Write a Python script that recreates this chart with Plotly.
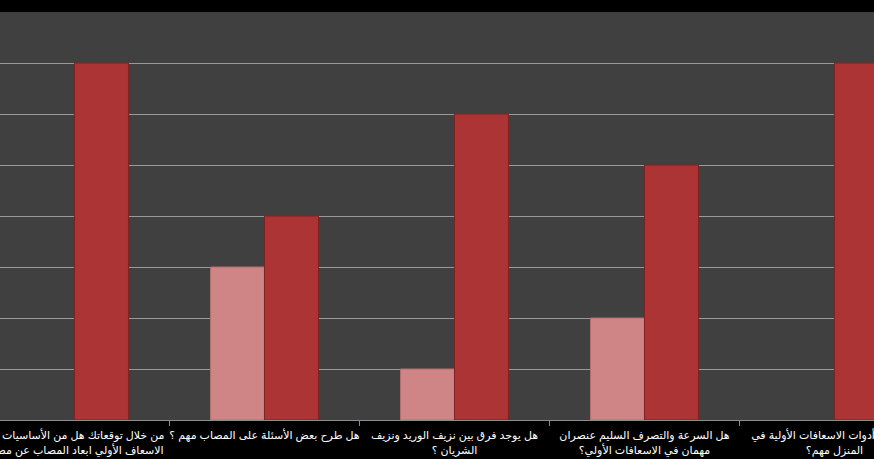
import plotly.graph_objects as go

categories = [
    "من خلال توقعاتك هل من الأساسيات في<br>الاسعاف الأولي ابعاد المصاب عن مصدر",
    "هل طرح بعض الأسئلة على المصاب مهم ؟",
    "هل يوجد فرق بين نزيف الوريد ونزيف<br>الشريان ؟",
    "هل السرعة والتصرف السليم عنصران<br>مهمان في الاسعافات الأولي؟",
    "هل وجود أدوات الاسعافات الأولية في<br>المنزل مهم؟",
]
series_light = [0, 3, 1, 2, 0]
series_dark = [7, 4, 6, 5, 7]

fig = go.Figure()
fig.add_trace(go.Bar(
    x=categories, y=[v if v else None for v in series_light], name="لا",
    marker=dict(color="#cf8585", line=dict(color="#b56e6e", width=1)),
))
fig.add_trace(go.Bar(
    x=categories, y=[v if v else None for v in series_dark], name="نعم",
    marker=dict(color="#ad3434", line=dict(color="#7e2222", width=1)),
))

fig.update_layout(
    width=874, height=459,
    template="none",
    barmode="group", bargap=0.432, bargroupgap=0,
    paper_bgcolor="#000000", plot_bgcolor="#404040",
    margin=dict(l=0, r=0, t=12, b=39, pad=0),
    showlegend=False,
    font=dict(family="Arial, DejaVu Sans, sans-serif", size=11, color="#ffffff"),
)
fig.update_xaxes(
    type="category", range=[-0.392, 4.208], automargin=False,
    showgrid=False, showline=True, linecolor="#8c8c8c", linewidth=1,
    ticks="outside", tickson="boundaries", ticklen=5, tickcolor="#8c8c8c",
    tickangle=0, ticklabelstandoff=5,
    tickfont=dict(color="#ffffff", size=11), zeroline=False,
)
fig.update_yaxes(
    range=[0, 8], dtick=1, automargin=False, showticklabels=False,
    showgrid=True, gridcolor="#9a9a9a", gridwidth=1, zeroline=False,
    showline=False, ticks="",
)

fig.write_html(
    "out.html",
    config={"displayModeBar": False},
    post_script="document.body.style.margin='0';document.body.style.background='#000';",
)
